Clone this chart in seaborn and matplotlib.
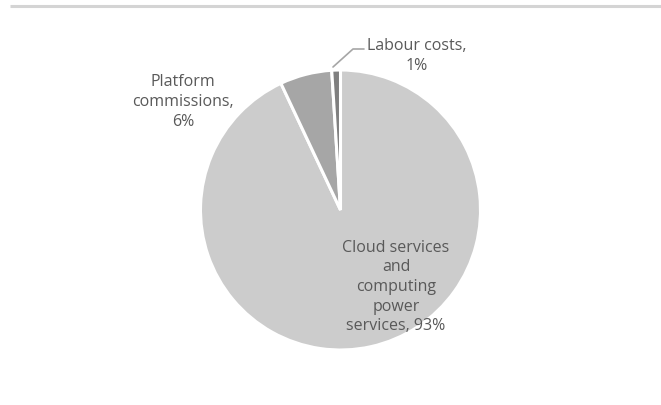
import matplotlib
matplotlib.use("Agg")
import matplotlib.pyplot as plt
import seaborn as sns

# Cost breakdown
categories = ["Cloud services\nand\ncomputing\npower\nservices", "Platform\ncommissions", "Labour costs"]
shares = [93, 6, 1]
colors = ["#cccccc", "#a6a6a6", "#7f7f7f"]

sns.set_theme(style="white")
plt.rcParams["font.family"] = ["Open Sans", "DejaVu Sans"]

W, H = 661, 406
fig = plt.figure(figsize=(W / 100, H / 100), dpi=100)
ax = fig.add_axes([0, 0, 1, 1])

cx, cy, r = 340.5, H - 211, 140
wedges, _ = ax.pie(shares, colors=colors, startangle=90, counterclock=False,
                   center=(cx, cy), radius=r, frame=True,
                   wedgeprops=dict(edgecolor="white", linewidth=2.2))
ax.set_xlim(0, W)
ax.set_ylim(0, H)
ax.set_aspect("equal")
ax.axis("off")

# top rule
ax.plot([10, W], [H - 7, H - 7], color="#d4d4d4", lw=2.2, solid_capstyle="butt")

txt = dict(color="#595959", fontsize=11.5, ha="center", va="center", linespacing=1.3)
ax.text(396, H - 287, f"{categories[0]}, {shares[0]}%", **txt)
ax.text(183, H - 102, f"{categories[1]},\n{shares[1]}%", **txt)
ax.text(417, H - 56, f"{categories[2]},\n{shares[2]}%", **txt)

# leader line for the small slice
ax.plot([333, 353, 364], [H - 68, H - 50, H - 50], color="#a6a6a6", lw=1.2)

fig.savefig("out.png", dpi=100, facecolor="white")
